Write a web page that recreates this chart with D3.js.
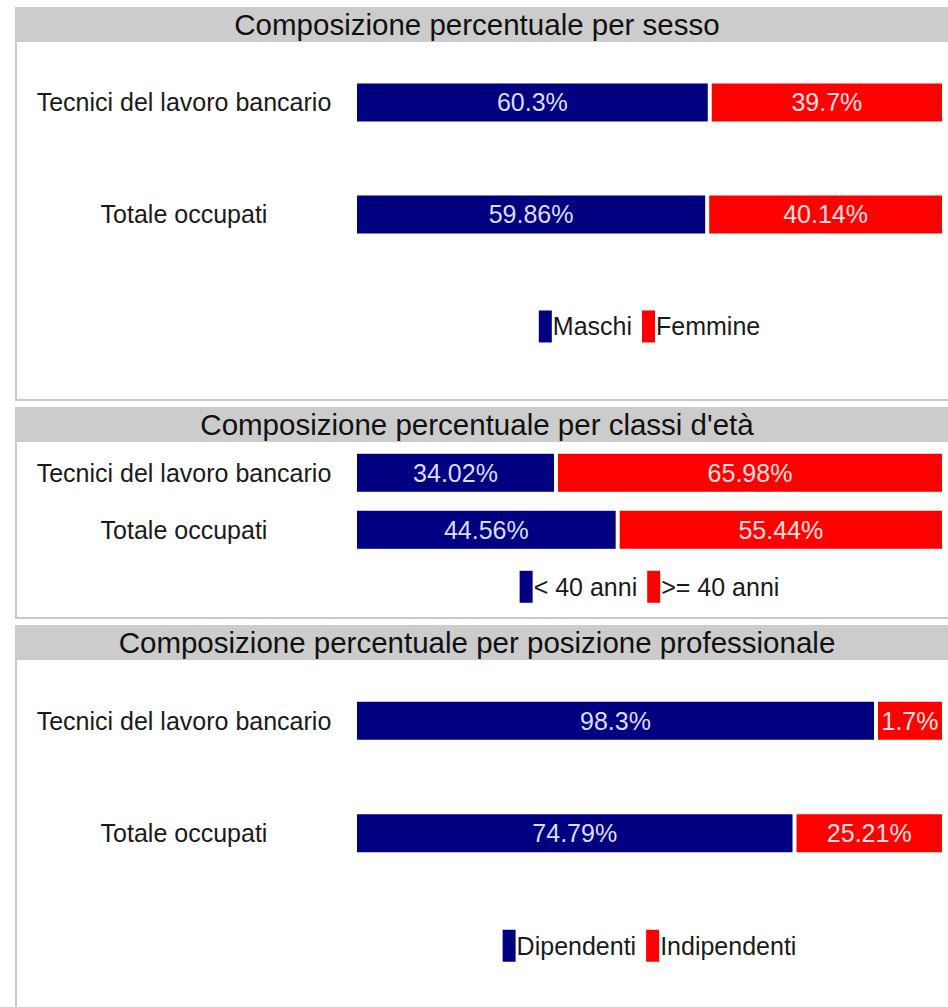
<!DOCTYPE html>
<html>
<head>
<meta charset="utf-8">
<script src="https://cdn.jsdelivr.net/npm/d3@7"></script>
<style>
  html, body { margin: 0; padding: 0; background: #ffffff; }
  svg { display: block; font-family: "Liberation Sans", Arial, sans-serif; }
</style>
</head>
<body>
<svg id="chart" width="948" height="1007"></svg>
<script>
// Row categories shared by every panel
const categories = ["Tecnici del lavoro bancario", "Totale occupati"];

// Panel 1: composition by sex (%)
const sessoTitle = "Composizione percentuale per sesso";
const sessoLegend = ["Maschi", "Femmine"];
const maschi = [60.3, 59.86];
const femmine = [39.7, 40.14];

// Panel 2: composition by age class (%)
const etaTitle = "Composizione percentuale per classi d'età";
const etaLegend = ["< 40 anni", ">= 40 anni"];
const sotto40 = [34.02, 44.56];
const oltre40 = [65.98, 55.44];

// Panel 3: composition by professional position (%)
const posizioneTitle = "Composizione percentuale per posizione professionale";
const posizioneLegend = ["Dipendenti", "Indipendenti"];
const dipendenti = [98.3, 74.79];
const indipendenti = [1.7, 25.21];

const seriesColors = ["#000080", "#ff0000"];
const valueTextColors = ["#dcdcff", "#ffe0e0"];

const panels = [
  { title: sessoTitle, legend: sessoLegend, series: [maschi, femmine], top: 7, bottom: 400, step: 112 },
  { title: etaTitle, legend: etaLegend, series: [sotto40, oltre40], top: 407, bottom: 618, step: 57 },
  { title: posizioneTitle, legend: posizioneLegend, series: [dipendenti, indipendenti], top: 625, bottom: 1020, step: 112.5 }
];

const W = 948;
const panelLeft = 16;
const headerH = 35;
const barX0 = 357, barX1 = 942;
const barH = 38;
const segGap = 4;
const minSeg = 66;      // smallest segment width, leaves room for its label
const labelCenterX = 184;

const svg = d3.select("#chart");
const x = d3.scaleLinear().domain([0, 100]).range([barX0, barX1]);

panels.forEach(p => {
  const g = svg.append("g");
  const hb = p.top + headerH;

  // panel frame: left and bottom rules
  g.append("rect").attr("x", panelLeft - 1).attr("y", p.top).attr("width", 2)
    .attr("height", p.bottom - p.top).attr("fill", "#c8c8c8");
  g.append("rect").attr("x", panelLeft - 1).attr("y", p.bottom - 1).attr("width", W)
    .attr("height", 2).attr("fill", "#c8c8c8");

  // header band
  g.append("rect").attr("x", panelLeft).attr("y", p.top).attr("width", W - panelLeft)
    .attr("height", headerH).attr("fill", "#cccccc");
  g.append("text").attr("x", (panelLeft + W) / 2 - 5).attr("y", p.top + headerH / 2)
    .attr("dy", "0.36em").attr("text-anchor", "middle")
    .attr("font-size", 29.5).attr("fill", "#111")
    .text(p.title);

  const y = d3.scalePoint().domain([...categories, "legend"])
    .range([hb + 0.54 * p.step, hb + 2.54 * p.step]);

  // stacked rows
  categories.forEach((cat, i) => {
    const cy = y(cat);
    g.append("text").attr("x", labelCenterX).attr("y", cy).attr("dy", "0.35em")
      .attr("text-anchor", "middle").attr("font-size", 25).attr("fill", "#1a1a1a")
      .text(cat);

    const vals = p.series.map(s => s[i]);
    // pixel widths from the scale, with a floor so every label fits
    let widths = vals.map(v => x(v) - x(0));
    const small = widths.map(w => w < minSeg);
    if (small.some(Boolean)) {
      const fixed = d3.sum(widths.filter((w, k) => small[k]).map(() => minSeg));
      const freeTotal = d3.sum(widths.filter((w, k) => !small[k]));
      const room = (barX1 - barX0) - fixed;
      widths = widths.map((w, k) => small[k] ? minSeg : w * room / freeTotal);
    }
    let cx = barX0;
    vals.forEach((v, k) => {
      const left = cx + (k > 0 ? segGap / 2 : 0);
      const right = cx + widths[k] - (k < vals.length - 1 ? segGap / 2 : 0);
      g.append("rect").attr("x", left).attr("y", cy - barH / 2)
        .attr("width", right - left).attr("height", barH)
        .attr("fill", seriesColors[k]);
      g.append("text").attr("x", (left + right) / 2).attr("y", cy).attr("dy", "0.36em")
        .attr("text-anchor", "middle").attr("font-size", 25)
        .attr("fill", valueTextColors[k]).text(v + "%");
      cx += widths[k];
    });
  });

  // legend, centred under the bars
  const ly = y("legend");
  const lg = g.append("g");
  let lx = 0;
  p.legend.forEach((name, k) => {
    lg.append("rect").attr("x", lx).attr("y", ly - 16).attr("width", 13).attr("height", 32)
      .attr("fill", seriesColors[k]);
    const t = lg.append("text").attr("x", lx + 14).attr("y", ly).attr("dy", "0.35em")
      .attr("font-size", 25).attr("fill", "#1a1a1a").text(name);
    lx += 14 + t.node().getComputedTextLength() + 10;
  });
  const lw = lx - 10;
  lg.attr("transform", `translate(${(barX0 + barX1) / 2 - lw / 2},0)`);
});
</script>
</body>
</html>
